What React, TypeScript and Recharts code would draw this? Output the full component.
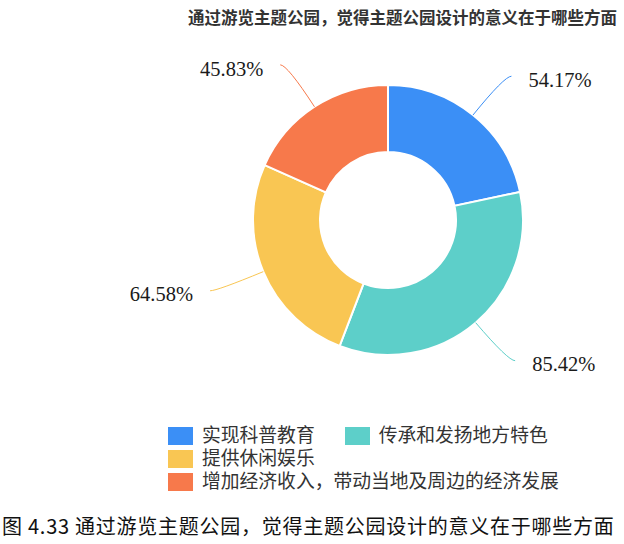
import { PieChart, Pie, Cell, Legend } from "recharts"

const categories = [
  "实现科普教育",
  "传承和发扬地方特色",
  "提供休闲娱乐",
  "增加经济收入，带动当地及周边的经济发展",
]
const values = [54.17, 85.42, 64.58, 45.83]
const colors = ["#3b8ff6", "#5dcfc9", "#f9c653", "#f7794b"]

const title = "通过游览主题公园，觉得主题公园设计的意义在于哪些方面"
const caption = "图 4.33 通过游览主题公园，觉得主题公园设计的意义在于哪些方面"

const data = categories.map((name, i) => ({ name, value: values[i] }))

const RAD = Math.PI / 180

// curved label line like the original (radial leg, then short horizontal leg)
function renderLabel(props: any) {
  const { cx, cy, midAngle, outerRadius, value, index } = props
  const cos = Math.cos(-midAngle * RAD)
  const sin = Math.sin(-midAngle * RAD)
  const x1 = cx + outerRadius * cos
  const y1 = cy + outerRadius * sin
  const x2 = cx + (outerRadius + 50) * cos
  const y2 = cy + (outerRadius + 50) * sin
  const dir = cos >= 0 ? 1 : -1
  const x3 = x2 + dir * 7
  const y3 = y2
  return (
    <g>
      <path
        d={`M${x1},${y1} Q${x2},${y2} ${x3},${y3}`}
        stroke={colors[index]}
        strokeWidth={1}
        fill="none"
      />
      <text
        x={x3 + dir * 17}
        y={y3 + 6}
        textAnchor={dir > 0 ? "start" : "end"}
        dominantBaseline="middle"
        fontFamily="Liberation Serif, serif"
        fontSize={20.5}
        fill="#1a1a1a"
      >
        {value.toFixed(2)}%
      </text>
    </g>
  )
}

function LegendContent() {
  return (
    <div
      style={{
        display: "flex",
        flexWrap: "wrap",
        width: 420,
        marginLeft: 168,
        fontFamily: "Liberation Sans, Noto Sans CJK SC, sans-serif",
        fontSize: 18.8,
        lineHeight: "23px",
        color: "#333",
      }}
    >
      {categories.map((name, i) => (
        <div
          key={name}
          style={{ display: "flex", alignItems: "center", marginRight: 30, height: 23 }}
        >
          <span
            style={{
              display: "inline-block",
              width: 25,
              height: 18,
              background: colors[i],
              marginRight: 9,
            }}
          />
          <span style={{ whiteSpace: "nowrap", lineHeight: "23px" }}>{name}</span>
        </div>
      ))}
    </div>
  )
}

export default function App() {
  return (
    <div style={{ position: "absolute", left: 0, top: 0, width: 624, height: 544, background: "#fff" }}>
      <div
        style={{
          position: "absolute",
          right: 7,
          top: 5,
          fontFamily: "Noto Sans CJK SC, sans-serif",
          fontSize: 16.5,
          fontWeight: 600,
          color: "#333",
          whiteSpace: "nowrap",
        }}
      >
        {title}
      </div>
      <PieChart width={624} height={500} margin={{ top: 0, right: 0, bottom: 0, left: 0 }}>
        <Pie
          data={data}
          dataKey="value"
          nameKey="name"
          cx={388}
          cy={220}
          innerRadius={68}
          outerRadius={135}
          startAngle={90}
          endAngle={-270}
          stroke="#fff"
          strokeWidth={2}
          label={renderLabel}
          labelLine={false}
          isAnimationActive={false}
        >
          {data.map((d, i) => (
            <Cell key={d.name} fill={colors[i]} />
          ))}
        </Pie>
        <Legend
          content={<LegendContent />}
          wrapperStyle={{ position: "absolute", left: 0, top: 424, width: 624 }}
        />
      </PieChart>
      <div
        style={{
          position: "absolute",
          left: 2,
          top: 511,
          fontFamily: "Noto Sans CJK SC, sans-serif",
          fontSize: 20,
          fontWeight: 400,
          color: "#111",
          whiteSpace: "nowrap",
          letterSpacing: 0.75,
        }}
      >
        {caption}
      </div>
    </div>
  )
}
